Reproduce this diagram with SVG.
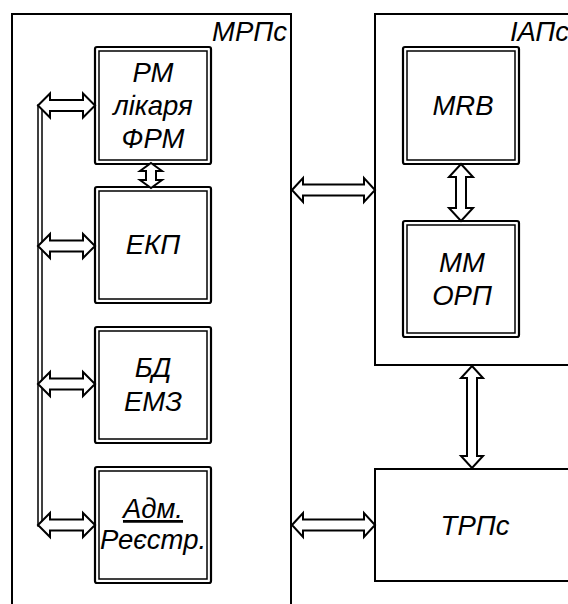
<svg xmlns="http://www.w3.org/2000/svg" width="568" height="604" viewBox="0 0 568 604">
<style>
.frame{fill:none;stroke:#000;stroke-width:2}
.bo{fill:#fff;stroke:#000;stroke-width:2.2}
.bi{fill:none;stroke:#000;stroke-width:1.5}
.arr{fill:#fff;stroke:#000;stroke-width:2;stroke-linejoin:miter}
.t{font-family:"Liberation Sans",Arial,sans-serif;font-style:italic;font-size:27.5px;fill:#000;text-anchor:middle}
.te{font-family:"Liberation Sans",Arial,sans-serif;font-style:italic;font-size:27.5px;fill:#000;text-anchor:end}
</style>
<rect width="568" height="604" fill="#fff"/>
<g id="MRPs">
<rect class="frame" x="12" y="14" width="279" height="610"/>
<text class="te" x="287" y="41">МРПс</text>
</g>
<g id="IAPs">
<rect class="frame" x="375" y="14" width="200" height="351"/>
<text class="te" x="569" y="41">ІАПс</text>
</g>
<g id="TRPs">
<rect class="frame" x="375" y="469" width="200" height="112"/>
<text class="t" x="475" y="535">ТРПс</text>
</g>
<g id="PM">
<rect class="bo" x="95" y="47" width="116" height="117" rx="2"/>
<rect class="bi" x="99" y="51" width="108" height="109"/>
<text class="t" x="153" y="82">РМ</text>
<text class="t" x="153" y="115">лікаря</text>
<text class="t" x="153" y="148">ФРМ</text>
</g>
<g id="EKP">
<rect class="bo" x="95" y="187" width="116" height="116" rx="2"/>
<rect class="bi" x="99" y="191" width="108" height="108"/>
<text class="t" x="153" y="254">ЕКП</text>
</g>
<g id="BD">
<rect class="bo" x="95" y="327" width="116" height="116" rx="2"/>
<rect class="bi" x="99" y="331" width="108" height="108"/>
<text class="t" x="153" y="377">БД</text>
<text class="t" x="153" y="411">ЕМЗ</text>
</g>
<g id="Adm">
<rect class="bo" x="95" y="467" width="116" height="116" rx="2"/>
<rect class="bi" x="99" y="471" width="108" height="108"/>
<text class="t" x="153" y="518" text-decoration="underline">Адм.</text>
<text class="t" x="153" y="549">Реєстр.</text>
</g>
<g id="MRB">
<rect class="bo" x="403" y="47" width="116" height="117" rx="2"/>
<rect class="bi" x="407" y="51" width="108" height="109"/>
<text class="t" x="463" y="115">MRB</text>
</g>
<g id="MMORP">
<rect class="bo" x="403" y="221" width="116" height="116" rx="2"/>
<rect class="bi" x="407" y="225" width="108" height="108"/>
<text class="t" x="462" y="272">ММ</text>
<text class="t" x="462" y="305">ОРП</text>
</g>
<g id="connectors">
<rect x="38" y="105" width="4" height="421" fill="#fff" stroke="#000" stroke-width="1.5"/>
<polygon class="arr" points="38,105.5 50,93.5 50,100 83,100 83,93.5 95,105.5 83,117.5 83,111 50,111 50,117.5"/>
<polygon class="arr" points="38,246 50,234 50,240.5 83,240.5 83,234 95,246 83,258 83,251.5 50,251.5 50,258"/>
<polygon class="arr" points="38,384 50,372 50,378.5 83,378.5 83,372 95,384 83,396 83,389.5 50,389.5 50,396"/>
<polygon class="arr" points="38,525 50,513 50,519.5 83,519.5 83,513 95,525 83,537 83,530.5 50,530.5 50,537"/>
<polygon class="arr" points="292,190 303,178 303,184.5 364,184.5 364,178 375,190 364,202 364,195.5 303,195.5 303,202"/>
<polygon class="arr" points="292,525 303,513 303,519.5 364,519.5 364,513 375,525 364,537 364,530.5 303,530.5 303,537"/>
<polygon class="arr" points="151,163 162,171 156,171 156,180 162,180 151,188 140,180 146,180 146,171 140,171"/>
<polygon class="arr" points="461,164 473,177 466,177 466,208 473,208 461,221 449,208 456,208 456,177 449,177"/>
<polygon class="arr" points="472,366 483,378 477,378 477,456 483,456 472,468 461,456 467,456 467,378 461,378"/>
</g>
</svg>
